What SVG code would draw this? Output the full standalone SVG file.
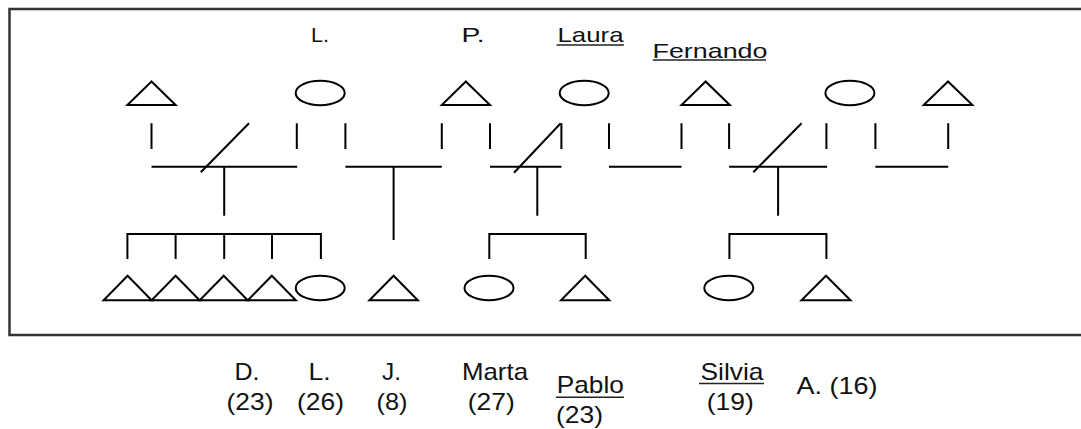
<svg xmlns="http://www.w3.org/2000/svg" width="1081" height="429" viewBox="0 0 1081 429">
<style>
.s{fill:none;stroke:#000;stroke-width:2;stroke-linejoin:miter}
.c{fill:none;stroke:#000;stroke-width:2}
.f{fill:none;stroke:#333;stroke-width:2.5}
.u{stroke:#222;stroke-width:1.4}
text{font-family:"Liberation Sans",Arial,sans-serif;fill:#111;text-anchor:middle}
.t{font-size:21px}
.b{font-size:24px}
</style>
<rect class="f" x="9.5" y="9" width="1090" height="326"/>
<g id="gen1-m1"><polygon class="s" points="151.5,81.5 127.4,105 175.6,105"/></g>
<g id="gen1-L"><ellipse class="s" cx="320.2" cy="93" rx="24.5" ry="12.3"/><text class="t" x="320" y="41.7" textLength="18" lengthAdjust="spacingAndGlyphs">L.</text></g>
<g id="gen1-P"><polygon class="s" points="465.8,81.5 441.8,105 490,105"/><text class="t" x="473" y="41.7" textLength="23" lengthAdjust="spacingAndGlyphs">P.</text></g>
<g id="gen1-Laura"><ellipse class="s" cx="584.2" cy="93" rx="24.5" ry="12.3"/><text class="t" x="590.5" y="41.5" textLength="66" lengthAdjust="spacingAndGlyphs">Laura</text><line class="u" x1="556.6" y1="45" x2="623.9" y2="45"/></g>
<g id="gen1-Fernando"><polygon class="s" points="705.6,81.5 681.5,105 729.8,105"/><text class="t" x="710" y="57.5" textLength="115" lengthAdjust="spacingAndGlyphs">Fernando</text><line class="u" x1="652.8" y1="60" x2="766" y2="60"/></g>
<g id="gen1-f2"><ellipse class="s" cx="849.9" cy="93" rx="24.5" ry="12.3"/></g>
<g id="gen1-m2"><polygon class="s" points="948,81.5 923.7,105 972.4,105"/></g>
<g id="connectors">
<path class="c" d="M151.5,123.3V149M296.8,123.3V149M345.4,123.3V149M441.8,123.3V149M490,123.3V149M561.4,123.3V149M609,123.3V149M681.5,123.3V149M729.1,123.3V149M826.4,123.3V149M875.4,123.3V149M948.2,123.3V149"/>
<path class="c" d="M151.5,166.7H297.2M345.4,166.7H441.8M490,166.7H561.4M609,166.7H681.5M729.1,166.7H827.1M875.4,166.7H948.2"/>
<path class="c" d="M249,123.3L200.8,172.3M560.7,123.3L514,172.7M801.6,123.3L753.3,172.3"/>
<path class="c" d="M224.2,166.7V215.7M393.6,166.7V240M537.3,166.7V215.7M778.1,166.7V215.7"/>
<path class="c" d="M127.4,259V234H320.9V259M175.6,234V259M224.2,234V259M272,234V259"/>
<path class="c" d="M489.3,259V234H585.7V259"/>
<path class="c" d="M729.4,259V234H826.4V259"/>
</g>
<g id="child-D1"><polygon class="s" points="127.6,275.7 103.6,300.3 151.6,300.3"/></g>
<g id="child-D2"><polygon class="s" points="175.6,275.7 151.6,300.3 199.6,300.3"/></g>
<g id="child-D3"><polygon class="s" points="223.7,275.7 199.7,300.3 247.7,300.3"/></g>
<g id="child-D"><polygon class="s" points="271.8,275.7 247.8,300.3 295.8,300.3"/><text class="b" x="247" y="380" textLength="25" lengthAdjust="spacingAndGlyphs">D.</text><text class="b" x="250" y="410" textLength="47" lengthAdjust="spacingAndGlyphs">(23)</text></g>
<g id="child-L"><ellipse class="s" cx="320.2" cy="288" rx="24.5" ry="12.3"/><text class="b" x="319.5" y="380" textLength="22" lengthAdjust="spacingAndGlyphs">L.</text><text class="b" x="320.5" y="410" textLength="47" lengthAdjust="spacingAndGlyphs">(26)</text></g>
<g id="child-J"><polygon class="s" points="393.6,275.7 369.4,300.3 417.8,300.3"/><text class="b" x="391.5" y="380" textLength="19" lengthAdjust="spacingAndGlyphs">J.</text><text class="b" x="392" y="410" textLength="31" lengthAdjust="spacingAndGlyphs">(8)</text></g>
<g id="child-Marta"><ellipse class="s" cx="489" cy="288" rx="24.5" ry="12.3"/><text class="b" x="495" y="380" textLength="66" lengthAdjust="spacingAndGlyphs">Marta</text><text class="b" x="491.3" y="410" textLength="47" lengthAdjust="spacingAndGlyphs">(27)</text></g>
<g id="child-Pablo"><polygon class="s" points="585.2,275.7 561,300.3 609.3,300.3"/><text class="b" x="590.3" y="393.3" textLength="67" lengthAdjust="spacingAndGlyphs">Pablo</text><line class="u" x1="556" y1="397.3" x2="624" y2="397.3"/><text class="b" x="579.5" y="423" textLength="47" lengthAdjust="spacingAndGlyphs">(23)</text></g>
<g id="child-Silvia"><ellipse class="s" cx="728.8" cy="288" rx="24.5" ry="12.3"/><text class="b" x="732" y="380" textLength="63" lengthAdjust="spacingAndGlyphs">Silvia</text><line class="u" x1="699" y1="383.5" x2="764" y2="383.5"/><text class="b" x="730.3" y="410" textLength="47" lengthAdjust="spacingAndGlyphs">(19)</text></g>
<g id="child-A"><polygon class="s" points="826,275.7 801.5,300.3 850.5,300.3"/><text class="b" x="837" y="394" textLength="81" lengthAdjust="spacingAndGlyphs">A. (16)</text></g>
</svg>
